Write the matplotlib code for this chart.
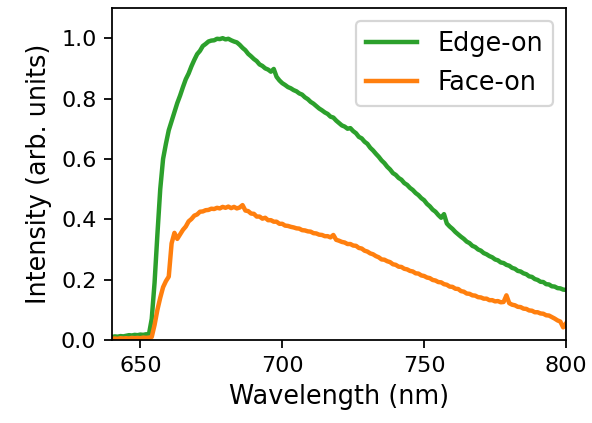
import matplotlib
matplotlib.use("Agg")
import matplotlib.pyplot as plt
import numpy as np

# Longitud de onda (nm), paso de 1 nm
wavelength = np.arange(640, 801, 1)

edge_on = [
    0.010, 0.012, 0.011, 0.013, 0.012, 0.014, 0.016, 0.015, 0.017, 0.016,  # 640-649
    0.018, 0.017, 0.019, 0.018, 0.070, 0.190, 0.350, 0.500, 0.600, 0.650,  # 650-659
    0.695, 0.725, 0.755, 0.785, 0.810, 0.838, 0.864, 0.883, 0.907, 0.928,  # 660-669
    0.947, 0.958, 0.974, 0.981, 0.989, 0.992, 0.993, 0.998, 0.997, 1.000,  # 670-679
    0.996, 0.998, 0.993, 0.989, 0.986, 0.978, 0.968, 0.960, 0.948, 0.940,  # 680-689
    0.931, 0.924, 0.913, 0.908, 0.900, 0.896, 0.889, 0.898, 0.872, 0.860,  # 690-699
    0.851, 0.845, 0.838, 0.834, 0.828, 0.824, 0.817, 0.813, 0.804, 0.798,  # 700-709
    0.789, 0.783, 0.775, 0.767, 0.761, 0.754, 0.749, 0.740, 0.737, 0.727,  # 710-719
    0.719, 0.711, 0.707, 0.700, 0.702, 0.692, 0.685, 0.673, 0.668, 0.657,  # 720-729
    0.650, 0.637, 0.628, 0.617, 0.607, 0.595, 0.586, 0.574, 0.565, 0.553,  # 730-739
    0.547, 0.537, 0.531, 0.520, 0.514, 0.504, 0.497, 0.487, 0.480, 0.470,  # 740-749
    0.463, 0.451, 0.443, 0.432, 0.425, 0.414, 0.405, 0.417, 0.386, 0.376,  # 750-759
    0.368, 0.358, 0.350, 0.342, 0.335, 0.326, 0.321, 0.312, 0.308, 0.300,  # 760-769
    0.296, 0.288, 0.284, 0.278, 0.274, 0.267, 0.264, 0.257, 0.255, 0.249,  # 770-779
    0.246, 0.239, 0.236, 0.229, 0.227, 0.221, 0.218, 0.211, 0.209, 0.202,  # 780-789
    0.199, 0.193, 0.192, 0.185, 0.184, 0.178, 0.177, 0.172, 0.171, 0.167,  # 790-799
    0.166,                                                                 # 800
]

face_on = [
    0.004, 0.005, 0.004, 0.006, 0.005, 0.006, 0.005, 0.007, 0.006, 0.007,  # 640-649
    0.006, 0.008, 0.007, 0.008, 0.010, 0.050, 0.100, 0.140, 0.175, 0.195,  # 650-659
    0.210, 0.320, 0.355, 0.335, 0.350, 0.365, 0.376, 0.393, 0.401, 0.412,  # 660-669
    0.416, 0.425, 0.426, 0.430, 0.431, 0.435, 0.434, 0.438, 0.436, 0.441,  # 670-679
    0.438, 0.442, 0.437, 0.441, 0.436, 0.439, 0.447, 0.429, 0.427, 0.419,  # 680-689
    0.418, 0.409, 0.409, 0.402, 0.405, 0.397, 0.397, 0.392, 0.392, 0.385,  # 690-699
    0.385, 0.379, 0.378, 0.375, 0.373, 0.370, 0.369, 0.364, 0.363, 0.360,  # 700-709
    0.359, 0.354, 0.353, 0.349, 0.348, 0.344, 0.344, 0.340, 0.348, 0.332,  # 710-719
    0.329, 0.325, 0.323, 0.318, 0.318, 0.313, 0.312, 0.305, 0.303, 0.296,  # 720-729
    0.293, 0.287, 0.284, 0.278, 0.274, 0.267, 0.266, 0.261, 0.258, 0.251,  # 730-739
    0.249, 0.243, 0.242, 0.236, 0.234, 0.229, 0.227, 0.221, 0.220, 0.214,  # 740-749
    0.212, 0.207, 0.205, 0.199, 0.197, 0.192, 0.191, 0.185, 0.183, 0.177,  # 750-759
    0.176, 0.170, 0.169, 0.162, 0.160, 0.154, 0.153, 0.148, 0.147, 0.142,  # 760-769
    0.141, 0.137, 0.137, 0.132, 0.132, 0.128, 0.129, 0.125, 0.126, 0.148,  # 770-779
    0.122, 0.117, 0.115, 0.110, 0.109, 0.104, 0.103, 0.098, 0.097, 0.092,  # 780-789
    0.092, 0.088, 0.087, 0.082, 0.081, 0.076, 0.071, 0.065, 0.061, 0.042,  # 790-799
    0.055,                                                                 # 800
]

fig = plt.figure(figsize=(3.7, 2.64375), dpi=160)
ax = fig.add_axes([0.1892, 0.1962, 0.7669, 0.7849])

ax.plot(wavelength, edge_on, color="tab:green", lw=2, label="Edge-on")
ax.plot(wavelength, face_on, color="tab:orange", lw=2, label="Face-on")

ax.set_xlim(640, 800)
ax.set_ylim(0, 1.1)
ax.set_xticks([650, 700, 750, 800])
ax.set_yticks([0.0, 0.2, 0.4, 0.6, 0.8, 1.0])
ax.tick_params(labelsize=10)
ax.set_xlabel("Wavelength (nm)", fontsize=11.5)
ax.set_ylabel("Intensity (arb. units)", fontsize=11.5)
ax.legend(loc="upper right", fontsize=11.5)

fig.savefig("out.png", dpi=160)
